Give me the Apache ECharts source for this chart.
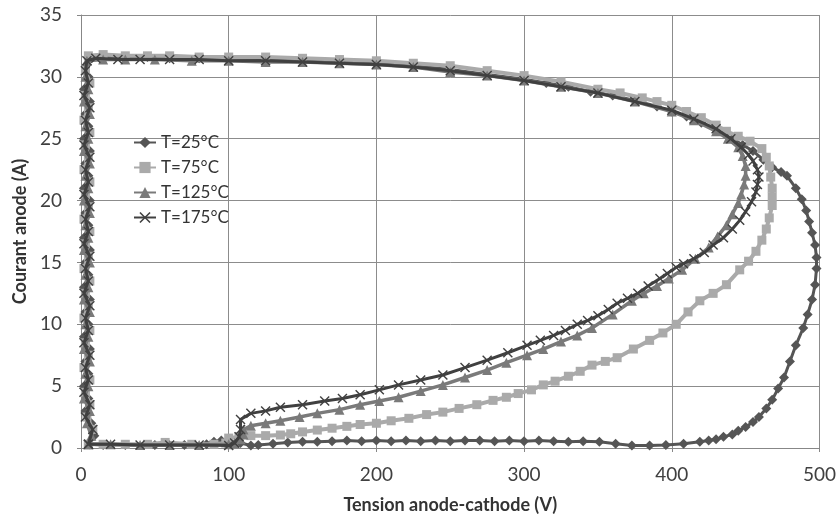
<!DOCTYPE html>
<html>
<head>
<meta charset="utf-8">
<script src="https://cdn.jsdelivr.net/npm/echarts@6/dist/echarts.min.js"></script>
<style>html,body{margin:0;padding:0;background:#fff;}#c{width:839px;height:519px;}</style>
</head>
<body>
<div id="c"></div>
<script>
const seriesNames = ['T=25°C', 'T=75°C', 'T=125°C', 'T=175°C'];
const xTicks = [0, 100, 200, 300, 400, 500];
const yTicks = [0, 5, 10, 15, 20, 25, 30, 35];

const t25 = [[6,0.3],[9,1],[7,2],[3,3],[5,4],[2,5],[5,6],[3,7],[6,8],[2,9],[5,10],[3,11],[6,12],[2,13],[5,14],[3,15],[6,16],[2,17],[5,18],[3,19],[6,20],[2,21],[5,22],[3,23],[6,24],[2,25],[5,26],[3,27],[6,28],[2,29],[5,30],[4,31],[6,31.5],[15,31.6],[30,31.5],[45,31.6],[60,31.5],[80,31.5],[100,31.4],[125,31.4],[150,31.3],[175,31.2],[200,31.1],[225,30.9],[250,30.6],[275,30.2],[300,29.8],[315,29.5],[330,29.2],[345,28.8],[360,28.5],[375,28.1],[390,27.6],[400,27.2],[410,26.8],[420,26.3],[430,25.7],[441,25],[448,24.5],[455,24],[462,23.3],[468,22.7],[474,22.3],[478,22],[484,21],[488,20.1],[491,19.2],[493,18.3],[495,17.4],[497,16.4],[498,15.4],[498,14.5],[497,13.2],[495,12],[492,10.8],[489,9.7],[484,8.3],[480,7],[476,5.7],[472,4.8],[468,3.9],[464,3.2],[459,2.5],[455,2.1],[450,1.7],[445,1.4],[441,1.1],[435,0.9],[430,0.7],[425,0.6],[419,0.5],[408,0.35],[396,0.25],[385,0.2],[373,0.2],[362,0.35],[351,0.5],[340,0.55],[330,0.5],[320,0.55],[310,0.6],[300,0.55],[290,0.6],[280,0.55],[270,0.6],[260,0.6],[250,0.55],[240,0.6],[230,0.55],[220,0.6],[210,0.55],[200,0.6],[190,0.55],[180,0.6],[170,0.55],[160,0.5],[150,0.5],[140,0.45],[130,0.35],[120,0.25],[115,0.2],[108,0.4],[100,0.6],[95,0.6],[90,0.5],[85,0.3],[70,0.25],[50,0.25],[30,0.25],[15,0.25],[6,0.3]];

const t75 = [[5,0.3],[8,1.5],[4,2.5],[6,3.5],[3,4.5],[6,5.5],[2,6.5],[5,7.5],[3,8.5],[6,9.5],[2,10.5],[5,11.5],[3,12.5],[6,13.5],[2,14.5],[5,15.5],[3,16.5],[6,17.5],[2,18.5],[5,19.5],[3,20.5],[6,21.5],[2,22.5],[5,23.5],[3,24.5],[6,25.5],[2,26.5],[5,27.5],[3,28.5],[6,29.5],[3,30.5],[5,31.7],[15,31.8],[30,31.7],[45,31.7],[60,31.7],[80,31.6],[100,31.6],[125,31.6],[150,31.5],[175,31.4],[200,31.3],[225,31.1],[250,30.9],[275,30.5],[300,30.1],[325,29.6],[350,29],[365,28.7],[380,28.3],[390,28],[400,27.7],[410,27.2],[420,26.7],[430,26.1],[437,25.6],[445,25.2],[453,24.8],[461,24.2],[464,23.5],[466,22.8],[467,21.9],[468,21],[468,20.3],[468,19.6],[466,18.6],[464,17.7],[461,16.8],[457,15.9],[452,15.1],[446,14.4],[437,13.2],[428,12.5],[419,11.9],[411,11],[403,10],[394,9.3],[385,8.7],[374,8],[363,7.3],[355,7],[346,6.7],[338,6.2],[330,5.8],[321,5.4],[313,5.1],[305,4.7],[296,4.4],[288,4.1],[279,3.85],[268,3.5],[256,3.2],[245,2.9],[234,2.7],[222,2.4],[210,2.2],[200,2],[189,1.9],[180,1.75],[170,1.6],[160,1.45],[150,1.3],[142,1.15],[135,1.05],[125,1.0],[115,1.0],[107,0.9],[100,0.8],[98,0.4],[90,0.3],[75,0.3],[57,0.45],[45,0.3],[30,0.3],[15,0.3],[5,0.3]];

const t125 = [[5,0.3],[7,1],[4,2],[6,3],[2,4],[5,5],[3,6],[6,7],[2,8],[5,9],[3,10],[6,11],[2,12],[5,13],[3,14],[6,15],[2,16],[5,17],[3,18],[6,19],[2,20],[5,21],[3,22],[6,23],[2,24],[5,25],[3,26],[6,27],[2,28],[5,29],[3,30],[4,31.3],[15,31.4],[30,31.4],[50,31.4],[75,31.3],[100,31.3],[125,31.2],[150,31.2],[175,31.1],[200,31],[225,30.8],[250,30.4],[275,30.1],[300,29.7],[325,29.2],[350,28.7],[375,28],[400,27.2],[415,26.5],[430,25.6],[438,25],[445,24.3],[448,23.6],[450,22.8],[450,22],[449,21.3],[447,20.5],[445,19.8],[441,18.9],[437,18],[431,17.1],[425,16.2],[416,15.3],[407,14.4],[398,13.7],[390,13.1],[381,12.5],[373,11.9],[360,10.8],[346,9.7],[336,9.1],[325,8.6],[313,8],[302,7.5],[288,6.9],[275,6.3],[260,5.7],[245,5.1],[230,4.6],[215,4.1],[202,3.8],[189,3.5],[175,3.1],[160,2.8],[148,2.5],[135,2.2],[125,2],[115,1.8],[110,1.5],[110,1.1],[108,0.7],[104,0.4],[100,0.3],[80,0.25],[60,0.25],[40,0.25],[20,0.3],[5,0.3]];

const t175 = [[5,0.3],[8,1.5],[3,2.5],[6,3.5],[2,4.5],[5,5.5],[3,6.5],[6,7.5],[2,8.5],[5,9.5],[3,10.5],[6,11.5],[2,12.5],[5,13.5],[3,14.5],[6,15.5],[2,16.5],[5,17.5],[3,18.5],[6,19.5],[2,20.5],[5,21.5],[3,22.5],[6,23.5],[2,24.5],[5,25.5],[3,26.5],[6,27.5],[2,28.5],[5,29.5],[3,30.5],[4,31.3],[10,31.5],[25,31.4],[40,31.4],[60,31.4],[80,31.4],[100,31.3],[125,31.3],[150,31.2],[175,31.1],[200,31],[225,30.8],[250,30.5],[275,30.1],[300,29.7],[325,29.2],[350,28.7],[375,28],[400,27.3],[415,26.6],[430,25.8],[440,25],[447,24.3],[452,23.7],[455,23.2],[458,22.5],[459,21.9],[458,21.3],[457,20.7],[454,19.9],[450,19.1],[446,18.4],[441,17.7],[435,17],[428,16.4],[422,15.8],[415,15.3],[408,14.9],[403,14.6],[397,14.1],[392,13.7],[384,13.1],[377,12.5],[370,12.1],[363,11.7],[357,11.2],[350,10.7],[343,10.3],[336,10],[328,9.5],[320,9.1],[311,8.7],[302,8.3],[289,7.7],[275,7.1],[260,6.5],[245,5.9],[230,5.5],[215,5.1],[202,4.7],[189,4.3],[177,4],[165,3.8],[150,3.5],[135,3.3],[125,3],[115,2.8],[108,2.3],[108,1.5],[107,0.9],[104,0.4],[100,0.2],[80,0.25],[60,0.25],[40,0.25],[20,0.3],[5,0.3]];

const seriesData = [t25, t75, t125, t175];
const colors = ['#555555', '#aaaaaa', '#7a7a7a', '#404040'];
const symbols = ['diamond', 'rect', 'triangle', 'path://M0,1L1,0L5,4L9,0L10,1L6,5L10,9L9,10L5,6L1,10L0,9L4,5Z'];
const symbolSizes = [10, 9, 10, 10];
const lineWidths = [3, 4, 3.5, 3];

const FONT = 'Lato';
const chart = echarts.init(document.getElementById('c'), null, {renderer: 'canvas'});
chart.setOption({
  animation: false,
  backgroundColor: '#ffffff',
  textStyle: {fontFamily: FONT},
  grid: {left: 81, right: 19, top: 15, bottom: 68, containLabel: false},
  legend: {
    orient: 'vertical', left: 128, top: 129,
    itemWidth: 22, itemHeight: 14, itemGap: 8,
    textStyle: {fontFamily: FONT, fontSize: 17, color: '#333'},
    data: seriesNames
  },
  xAxis: {
    type: 'value', min: xTicks[0], max: xTicks[xTicks.length - 1], interval: 100,
    name: 'Tension anode-cathode (V)', nameLocation: 'middle', nameGap: 48,
    nameTextStyle: {fontFamily: FONT, fontSize: 18, fontWeight: 'bold', color: '#333'},
    axisLine: {show: true, lineStyle: {color: '#878787', width: 1}},
    axisTick: {show: true, length: 4, lineStyle: {color: '#878787'}},
    axisLabel: {fontSize: 19, color: '#404040', margin: 17},
    splitLine: {show: true, lineStyle: {color: '#8c8c8c', width: 1}}
  },
  yAxis: {
    type: 'value', min: yTicks[0], max: yTicks[yTicks.length - 1], interval: 5,
    name: 'Courant anode (A)', nameLocation: 'middle', nameGap: 51,
    nameTextStyle: {fontFamily: FONT, fontSize: 18, fontWeight: 'bold', color: '#333'},
    axisLine: {show: true, lineStyle: {color: '#878787', width: 1}},
    axisTick: {show: true, length: 4, lineStyle: {color: '#878787'}},
    axisLabel: {fontSize: 19, color: '#404040', margin: 19},
    splitLine: {show: true, lineStyle: {color: '#8c8c8c', width: 1}}
  },
  series: seriesNames.map((n, k) => ({
    name: n, type: 'line', data: seriesData[k],
    symbol: symbols[k], symbolSize: symbolSizes[k], showSymbol: true,
    smooth: false,
    lineStyle: {color: colors[k], width: lineWidths[k]},
    itemStyle: {color: colors[k], borderWidth: 0},
    z: 2 + k
  }))
});
</script>
</body>
</html>
